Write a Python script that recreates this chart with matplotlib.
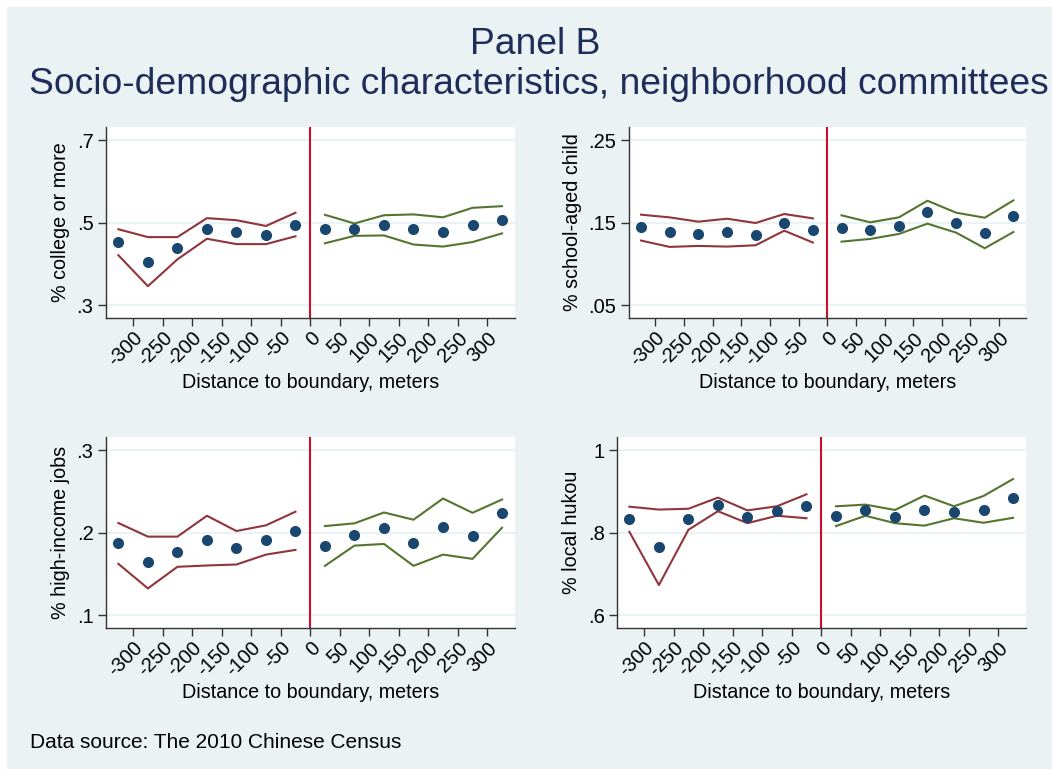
import matplotlib.pyplot as plt
from matplotlib.patches import Rectangle

plt.rcParams['font.family'] = ['Liberation Sans', 'DejaVu Sans']

# bin centres (meters from boundary)
x_left = [-325, -275, -225, -175, -125, -75, -25]
x_right = [25, 75, 125, 175, 225, 275, 325]

# panel 1: % college or more
college_pts_l = [0.453, 0.405, 0.438, 0.485, 0.477, 0.471, 0.494]
college_pts_r = [0.484, 0.484, 0.494, 0.484, 0.477, 0.494, 0.506]
college_hi_l = [0.484, 0.465, 0.465, 0.511, 0.506, 0.492, 0.524]
college_lo_l = [0.421, 0.346, 0.411, 0.461, 0.448, 0.448, 0.467]
college_hi_r = [0.519, 0.498, 0.518, 0.520, 0.513, 0.536, 0.540]
college_lo_r = [0.450, 0.468, 0.469, 0.447, 0.442, 0.453, 0.474]

# panel 2: % school-aged child
school_pts_l = [0.1444, 0.1391, 0.1359, 0.1383, 0.1351, 0.1500, 0.1407]
school_pts_r = [0.1440, 0.1407, 0.1464, 0.1629, 0.1492, 0.1375, 0.1580]
school_hi_l = [0.1597, 0.1564, 0.1512, 0.1548, 0.1496, 0.1605, 0.1552]
school_lo_l = [0.1283, 0.1206, 0.1218, 0.1210, 0.1226, 0.1403, 0.1259]
school_hi_r = [0.1589, 0.1504, 0.1564, 0.1766, 0.1621, 0.1560, 0.1770]
school_lo_r = [0.1270, 0.1303, 0.1363, 0.1488, 0.1379, 0.1190, 0.1387]

# panel 3: % high-income jobs
income_pts_l = [0.1871, 0.1642, 0.1771, 0.1907, 0.1815, 0.1911, 0.2024]
income_pts_r = [0.1839, 0.1976, 0.2056, 0.1879, 0.2072, 0.1960, 0.2237]
income_hi_l = [0.2117, 0.1952, 0.1952, 0.2205, 0.2020, 0.2089, 0.2254]
income_lo_l = [0.1622, 0.1324, 0.1586, 0.1602, 0.1614, 0.1734, 0.1791]
income_hi_r = [0.2080, 0.2113, 0.2245, 0.2157, 0.2414, 0.2241, 0.2402]
income_lo_r = [0.1598, 0.1843, 0.1863, 0.1598, 0.1734, 0.1682, 0.2060]

# panel 4: % local hukou
hukou_pts_l = [0.832, 0.765, 0.832, 0.868, 0.839, 0.853, 0.864]
hukou_pts_r = [0.840, 0.854, 0.839, 0.855, 0.850, 0.856, 0.885]
hukou_hi_l = [0.863, 0.856, 0.858, 0.885, 0.854, 0.864, 0.893]
hukou_lo_l = [0.802, 0.673, 0.807, 0.852, 0.823, 0.841, 0.835]
hukou_hi_r = [0.864, 0.868, 0.855, 0.890, 0.864, 0.889, 0.930]
hukou_lo_r = [0.816, 0.841, 0.823, 0.817, 0.835, 0.824, 0.836]

xticks = list(range(-300, 301, 50))

BG = '#EAF2F3'
NAVY = '#1A476F'
MAROON = '#90353B'
GREEN = '#55752F'
VLINE = '#C8102E'
W, H = 1052, 769

fig = plt.figure(figsize=(W / 100, H / 100), dpi=100, facecolor='white')
fig.patches.append(Rectangle((7 / W, 0), 1 - 7 / W, 1 - 7 / H,
                             transform=fig.transFigure, color=BG, zorder=-10))

panels = [
    # (left, right, top, bottom px), ylabel, yticks, ticklabels, data
    ((106, 515, 127, 318), '% college or more', [0.3, 0.5, 0.7], ['.3', '.5', '.7'],
     (college_pts_l, college_pts_r, college_hi_l, college_lo_l, college_hi_r, college_lo_r)),
    ((629, 1026, 127, 318), '% school-aged child', [0.05, 0.15, 0.25], ['.05', '.15', '.25'],
     (school_pts_l, school_pts_r, school_hi_l, school_lo_l, school_hi_r, school_lo_r)),
    ((106, 515, 437, 628), '% high-income jobs', [0.1, 0.2, 0.3], ['.1', '.2', '.3'],
     (income_pts_l, income_pts_r, income_hi_l, income_lo_l, income_hi_r, income_lo_r)),
    ((617, 1026, 437, 628), '% local hukou', [0.6, 0.8, 1.0], ['.6', '.8', '1'],
     (hukou_pts_l, hukou_pts_r, hukou_hi_l, hukou_lo_l, hukou_hi_r, hukou_lo_r)),
]

for (l, r, t, b), ylab, yt, ytl, data in panels:
    ax = fig.add_axes([l / W, 1 - b / H, (r - l) / W, (b - t) / H])
    pts_l, pts_r, hi_l, lo_l, hi_r, lo_r = data
    ax.set_facecolor('white')
    for yv in yt:
        ax.axhline(yv, color=BG, lw=1.6, zorder=0)
    ax.axvline(0, color=VLINE, lw=1.5, zorder=1)
    ax.plot(x_left, hi_l, color=MAROON, lw=1.5, zorder=2)
    ax.plot(x_left, lo_l, color=MAROON, lw=1.5, zorder=2)
    ax.plot(x_right, hi_r, color=GREEN, lw=1.5, zorder=2)
    ax.plot(x_right, lo_r, color=GREEN, lw=1.5, zorder=2)
    ax.plot(x_left + x_right, pts_l + pts_r, 'o', color=NAVY, ms=8, mec='none', zorder=3)
    span = yt[-1] - yt[0]
    ax.set_ylim(yt[0] - span * 0.078, yt[-1] + span * 0.08)
    ax.set_xlim(-346, 347)
    ax.set_yticks(yt)
    ax.set_yticklabels(ytl)
    ax.set_xticks(xticks)
    ax.set_xticklabels([str(v) for v in xticks], rotation=45, ha='right',
                       rotation_mode='anchor')
    ax.tick_params(axis='both', labelsize=14.5, length=6, width=1, color='#333333',
                   labelcolor='black', pad=3)
    ax.tick_params(axis='x', pad=1.5)
    for s in ['top', 'right']:
        ax.spines[s].set_visible(False)
    for s in ['left', 'bottom']:
        ax.spines[s].set_color('#333333')
        ax.spines[s].set_linewidth(1.0)
    ax.set_ylabel(ylab, fontsize=14.2, labelpad=5)
    ax.set_xlabel('Distance to boundary, meters', fontsize=14.2, labelpad=2)

fig.text(535 / W, 1 - 45 / H, 'Panel B', fontsize=26.8, color='#1F2D5A',
         ha='center', va='center')
fig.text(539 / W, 1 - 84 / H, 'Socio-demographic characteristics, neighborhood committees',
         fontsize=26.8, color='#1F2D5A', ha='center', va='center')
fig.text(30 / W, 1 - 742 / H, 'Data source: The 2010 Chinese Census', fontsize=15,
         color='black', ha='left', va='center')

fig.savefig('out.png', dpi=100, facecolor=fig.get_facecolor())
